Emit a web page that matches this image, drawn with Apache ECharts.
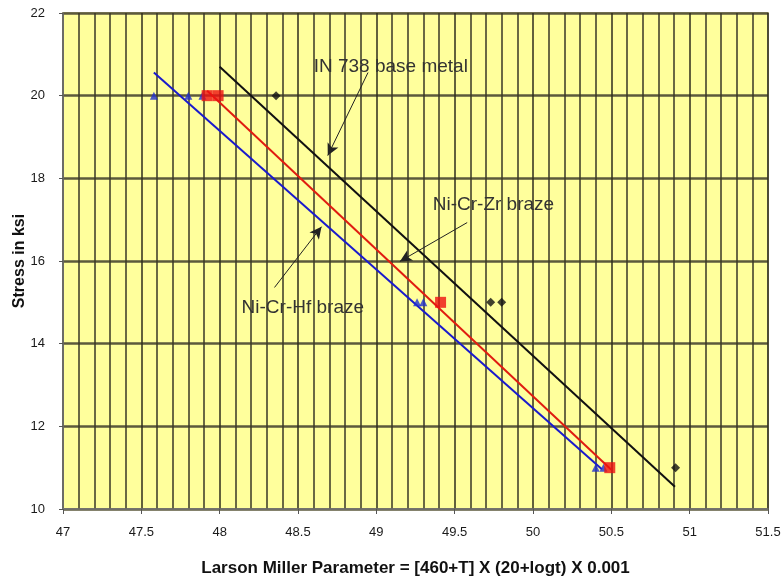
<!DOCTYPE html>
<html>
<head>
<meta charset="utf-8">
<script src="https://cdn.jsdelivr.net/npm/echarts@6/dist/echarts.min.js"></script>
<style>
  html, body { margin: 0; padding: 0; background: #fff; }
  #chart { width: 782px; height: 581px; }
</style>
</head>
<body>
<div id="chart"></div>
<script>
// measured points [LMP, stress]
const baseMetalPts = [[48.36, 20], [49.73, 15], [49.80, 15], [50.91, 11]]
const zrBrazePts = [[47.92, 20], [47.99, 20], [49.41, 15], [50.49, 11]]
const hfBrazePts = [[47.58, 20], [47.80, 20], [47.89, 20], [49.26, 15], [49.30, 15], [50.40, 11], [50.45, 11]]

// fitted trend lines (two end points each)
const baseMetalFit = [[48.00, 20.70], [50.906, 10.54]]
const zrBrazeFit = [[47.92, 20.12], [50.50, 10.95]]
const hfBrazeFit = [[47.58, 20.56], [50.44, 10.96]]

// annotations: text anchor and arrow (from -> to), data units
const notes = [
  { text: 'IN 738 base metal', at: [48.60, 20.71], from: [48.947, 20.56], to: [48.69, 18.55] },
  { text: 'Ni-Cr-Zr braze', at: [49.36, 17.37], from: [49.58, 16.93], to: [49.15, 15.99] },
  { text: 'Ni-Cr-Hf braze', at: [48.14, 14.87], from: [48.35, 15.36], to: [48.65, 16.83] }
]

const chart = echarts.init(document.getElementById('chart'))
const font = '"Liberation Sans", Arial, sans-serif'

const option = {
  animation: false,
  grid: {
    left: 63, top: 13, width: 705, height: 496,
    outerBoundsMode: 'none', containLabel: false,
    show: true, backgroundColor: '#ffff9c', borderColor: '#b0ac88', borderWidth: 2
  },
  xAxis: {
    type: 'value', min: 47, max: 51.5, interval: 0.5,
    name: 'Larson Miller Parameter = [460+T] X (20+logt) X 0.001',
    nameLocation: 'middle', nameGap: 51, nameMoveOverlap: false,
    nameTextStyle: { fontFamily: font, fontWeight: 'bold', fontSize: 17, color: '#111' },
    axisLine: { onZero: false, lineStyle: { color: '#777', width: 1.5 } },
    axisTick: { show: true, length: 5, lineStyle: { color: '#555' } },
    axisLabel: { margin: 17, fontFamily: font, fontSize: 13, color: '#1a1a1a' },
    splitLine: { show: true, lineStyle: { color: '#2e2c1c', width: 1.5 } },
    minorTick: { show: false, splitNumber: 5 },
    minorSplitLine: { show: true, lineStyle: { color: '#3a3826', width: 1.5 } }
  },
  yAxis: {
    type: 'value', min: 10, max: 22, interval: 2,
    name: 'Stress in ksi', nameLocation: 'middle', nameGap: 35, nameMoveOverlap: false,
    nameTextStyle: { fontFamily: font, fontWeight: 'bold', fontSize: 16, color: '#111' },
    axisLine: { show: true, lineStyle: { color: '#777', width: 1.5 } },
    axisTick: { show: true, length: 4, lineStyle: { color: '#555' } },
    axisLabel: { margin: 18, fontFamily: font, fontSize: 13, color: '#1a1a1a' },
    splitLine: { show: true, lineStyle: { color: '#5c5a3c', width: 2.5 } }
  },
  series: [
    {
      type: 'line', data: baseMetalFit, symbol: 'none', z: 3,
      lineStyle: { color: '#111', width: 2 }
    },
    {
      type: 'line', data: hfBrazeFit, symbol: 'none', z: 3,
      lineStyle: { color: '#1a1acc', width: 2 }
    },
    {
      type: 'line', data: zrBrazeFit, symbol: 'none', z: 3,
      lineStyle: { color: '#e01c10', width: 2 }
    },
    {
      type: 'scatter', data: baseMetalPts, symbol: 'diamond', symbolSize: 9, z: 4,
      itemStyle: { color: '#111' }
    },
    {
      type: 'scatter', data: hfBrazePts, symbol: 'triangle', symbolSize: 8, z: 4,
      itemStyle: { color: '#2030d0' }
    },
    {
      type: 'scatter', data: zrBrazePts, symbol: 'rect', symbolSize: 11, z: 5,
      itemStyle: { color: '#ee1010' }
    },
    {
      type: 'line', data: [], z: 6,
      markLine: {
        silent: true, symbol: ['none', 'arrow'], symbolSize: [9, 12],
        label: { show: false },
        lineStyle: { color: '#222', width: 1, type: 'solid' },
        data: notes.map(n => [{ coord: n.from }, { coord: n.to }])
      }
    }
  ]
}
chart.setOption(option)

// place annotation text at data positions
chart.setOption({
  graphic: notes.map(n => {
    const p = chart.convertToPixel({ gridIndex: 0 }, n.at)
    return {
      type: 'text', x: p[0], y: p[1], z: 10,
      style: {
        text: n.text, fontFamily: font, fontSize: 19, fill: '#333',
        textVerticalAlign: 'middle', verticalAlign: 'middle'
      }
    }
  })
})
</script>
</body>
</html>
